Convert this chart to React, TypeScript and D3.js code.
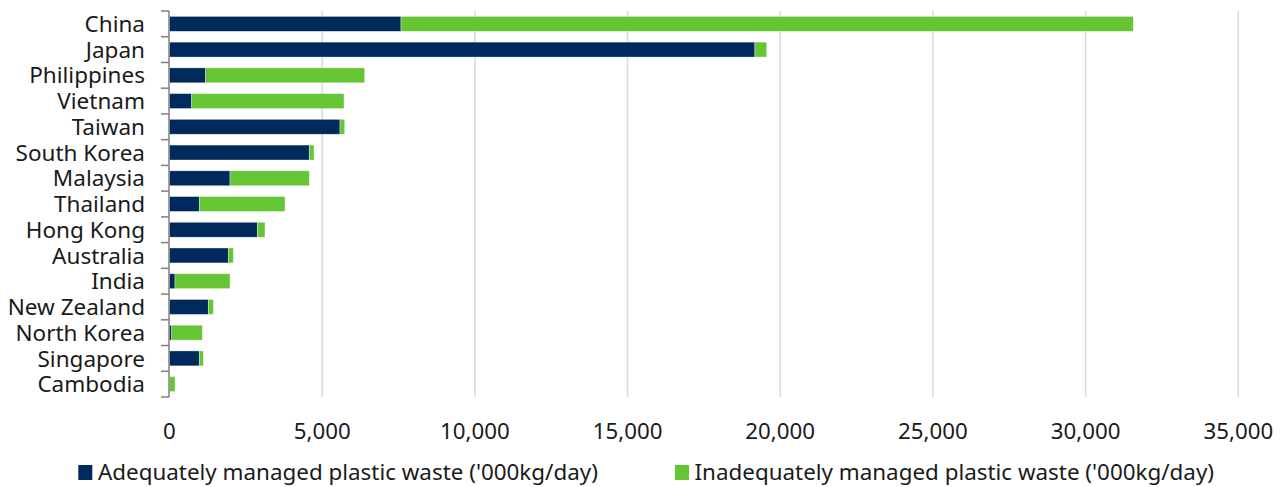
import React from "react";
import * as d3 from "d3";

const countries = ["China","Japan","Philippines","Vietnam","Taiwan","South Korea","Malaysia","Thailand","Hong Kong","Australia","India","New Zealand","North Korea","Singapore","Cambodia"];
const adequate = [7580,19170,1185,727,5583,4578,1981,976,2876,1926,180,1271,72,976,10];
const inadequate = [23980,385,5205,4987,154,154,2597,2806,251,164,1801,164,1003,131,170];
const xTicks = [0,5000,10000,15000,20000,25000,30000,35000];
const seriesNames = ["Adequately managed plastic waste ('000kg/day)","Inadequately managed plastic waste ('000kg/day)"];
const colors = ["#002a5c","#66c534"];

export default function App() {
  const W = 1287, H = 487;
  const x = d3.scaleLinear().domain([0,35000]).range([169.5,1238.3]);
  const y = d3.scaleBand().domain(countries).range([11,397]).paddingInner(0.42).paddingOuter(0.21);
  const band = d3.scaleBand().domain(countries).range([11,397]);
  const fmt = d3.format(",");
  const font = "'Noto Sans', 'Open Sans', sans-serif";
  return (
    <div style={{position:"absolute",left:0,top:0}}>
      <svg width={W} height={H} style={{display:"block",fontFamily:font}}>
        <rect width={W} height={H} fill="#fff"/>
        {xTicks.slice(1).map(t => (
          <line key={t} x1={x(t)} x2={x(t)} y1={11} y2={397} stroke="#d9d9d9" strokeWidth={1.5}/>
        ))}
        {countries.map((c,i) => {
          const yy = y(c)!;
          const h = y.bandwidth();
          return (
            <g key={c}>
              <rect x={x(0)} y={yy} width={x(adequate[i])-x(0)} height={h} fill={colors[0]} stroke="#ffffff" strokeOpacity={0.5} strokeWidth={0.7}/>
              <rect x={x(adequate[i])} y={yy} width={x(adequate[i]+inadequate[i])-x(adequate[i])} height={h} fill={colors[1]} stroke="#ffffff" strokeOpacity={0.5} strokeWidth={0.7}/>
              <text x={145} y={band(c)!+band.bandwidth()/2} dy="0.36em" textAnchor="end" fontSize={22.5} fill="#1a1a1a">{c}</text>
            </g>
          );
        })}
        <line x1={169} x2={169} y1={11} y2={397} stroke="#808080" strokeWidth={1.5}/>
        {countries.map(c => (
          <line key={"t"+c} x1={161} x2={169} y1={band(c)!} y2={band(c)!} stroke="#808080" strokeWidth={1.5}/>
        ))}
        <line x1={161} x2={169} y1={397} y2={397} stroke="#808080" strokeWidth={1.5}/>
        {xTicks.map(t => (
          <text key={"x"+t} x={x(t)} y={430.5} dy="0.36em" textAnchor="middle" fontSize={22.3} fill="#1a1a1a">{fmt(t)}</text>
        ))}
        <rect x={78.3} y={465} width={14} height={15} fill={colors[0]}/>
        <text x={98} y={472} dy="0.36em" fontSize={22.4} fill="#1a1a1a">{seriesNames[0]}</text>
        <rect x={675} y={465} width={14} height={15} fill={colors[1]}/>
        <text x={694.5} y={472} dy="0.36em" fontSize={22.4} fill="#1a1a1a">{seriesNames[1]}</text>
      </svg>
    </div>
  );
}
